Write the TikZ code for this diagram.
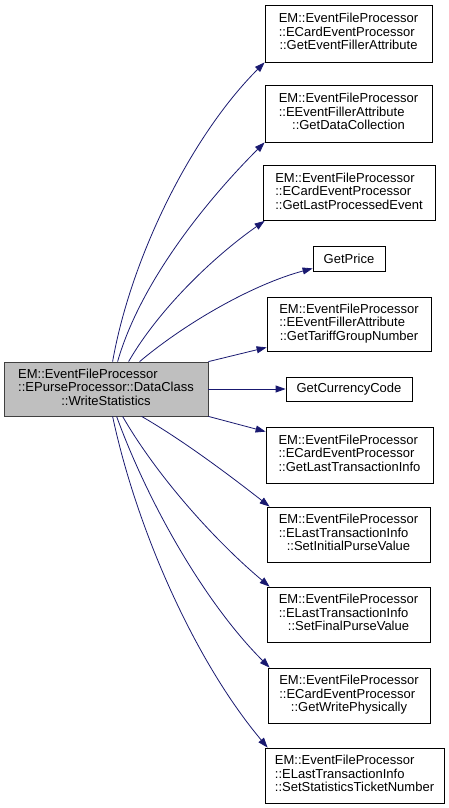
\documentclass[tikz,border=0pt]{standalone}
\usepackage{fontspec}
\setmainfont{Liberation Sans}
\usetikzlibrary{arrows.meta}
\definecolor{edgeBlue}{HTML}{191970}
\definecolor{mainFill}{HTML}{BFBFBF}
\definecolor{mainDraw}{HTML}{404040}
\newcommand{\fnlabel}[3]{\begin{tabular}{@{}l@{}}#1\\#2\\\multicolumn{1}{@{}c@{}}{#3}\end{tabular}}
\begin{document}
\begin{tikzpicture}[
  x=1pt, y=-1pt,
  font=\fontsize{13}{13.5}\selectfont,
  fn/.style={rectangle, draw=black, fill=white, line width=0.8pt, inner sep=0pt, align=center},
  mainfn/.style={fn, draw=mainDraw, fill=mainFill},
  call/.style={-{Triangle[length=10pt,width=7pt]}, line width=0.8pt, draw=edgeBlue},
]
\useasboundingbox (0,0) rectangle (448,808);

% ---- Caller ----
\node[mainfn, minimum width=204pt, minimum height=54pt] (write) at (106,389)
   {\fnlabel{EM::EventFileProcessor}{::EPurseProcessor::DataClass}{::WriteStatistics}};

% ---- Callees ----
\node[fn, minimum width=167pt, minimum height=57pt] (filler) at (348.5,33.5)
   {\fnlabel{EM::EventFileProcessor}{::ECardEventProcessor}{::GetEventFillerAttribute}};
\node[fn, minimum width=167pt, minimum height=57pt] (datacoll) at (348.5,113.5)
   {\fnlabel{EM::EventFileProcessor}{::EEventFillerAttribute}{::GetDataCollection}};
\node[fn, minimum width=172pt, minimum height=55pt] (lastevent) at (349,193)
   {\fnlabel{EM::EventFileProcessor}{::ECardEventProcessor}{::GetLastProcessedEvent}};
\node[fn, minimum width=72pt, minimum height=25pt] (price) at (349,258.5) {GetPrice};
\node[fn, minimum width=164pt, minimum height=54pt] (tariff) at (349,324)
   {\fnlabel{EM::EventFileProcessor}{::EEventFillerAttribute}{::GetTariffGroupNumber}};
\node[fn, minimum width=126pt, minimum height=24pt] (currency) at (349,389) {GetCurrencyCode};
\node[fn, minimum width=167pt, minimum height=56pt] (lasttrans) at (349.5,455)
   {\fnlabel{EM::EventFileProcessor}{::ECardEventProcessor}{::GetLastTransactionInfo}};
\node[fn, minimum width=163pt, minimum height=55pt] (initpurse) at (348.5,534.5)
   {\fnlabel{EM::EventFileProcessor}{::ELastTransactionInfo}{::SetInitialPurseValue}};
\node[fn, minimum width=163pt, minimum height=55pt] (finalpurse) at (348.5,614.5)
   {\fnlabel{EM::EventFileProcessor}{::ELastTransactionInfo}{::SetFinalPurseValue}};
\node[fn, minimum width=162pt, minimum height=55pt] (physical) at (349,695.5)
   {\fnlabel{EM::EventFileProcessor}{::ECardEventProcessor}{::GetWritePhysically}};
\node[fn, minimum width=179pt, minimum height=55pt] (ticket) at (354.5,775.5)
   {\fnlabel{EM::EventFileProcessor}{::ELastTransactionInfo}{::SetStatisticsTicketNumber}};

% ---- Calls ----
\draw[call] ([xshift=109pt]write.north west) to[out=80, in=225, looseness=0.8] (filler.south west);
\draw[call] ([xshift=114pt]write.north west) to[out=74, in=225, looseness=0.8] (datacoll.south west);
\draw[call] ([xshift=125pt]write.north west) to[out=60, in=215, looseness=0.8] ([xshift=2pt]lastevent.south west);
\draw[call] ([xshift=136pt]write.north west) to[out=40, in=195, looseness=0.8] ([yshift=3pt]price.south west);
\draw[call] (write.north east) -- ([yshift=4pt]tariff.south west);
\draw[call] (write.east) -- (currency.west);
\draw[call] (write.south east) -- ([yshift=-5pt]lasttrans.north west);
\draw[call] ([xshift=138pt]write.south west) to[out=-30, in=142, looseness=0.8] ([xshift=3pt]initpurse.north west);
\draw[call] ([xshift=119pt]write.south west) to[out=-60, in=140, looseness=0.8] ([xshift=3pt]finalpurse.north west);
\draw[call] ([xshift=113pt]write.south west) to[out=-70, in=135, looseness=0.8] ([xshift=2pt]physical.north west);
\draw[call] ([xshift=109pt]write.south west) to[out=-78, in=130, looseness=0.8] ([xshift=3pt]ticket.north west);

\end{tikzpicture}
\end{document}
